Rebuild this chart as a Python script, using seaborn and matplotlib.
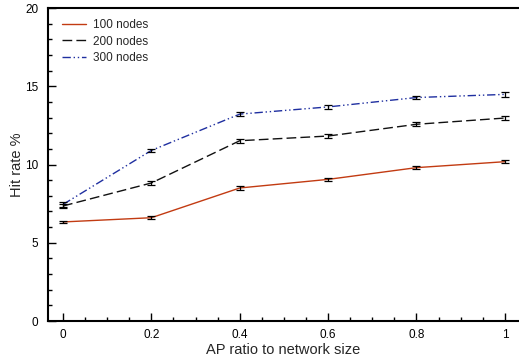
import pandas as pd
import matplotlib
matplotlib.use("Agg")
import matplotlib.pyplot as plt
from matplotlib.ticker import MultipleLocator
import seaborn as sns

# ============= data =============
ap_ratio = [0, 0.2, 0.4, 0.6, 0.8, 1.0]
hit_100 = [6.33, 6.60, 8.50, 9.05, 9.80, 10.18]
hit_200 = [7.35, 8.82, 11.52, 11.82, 12.57, 12.97]
hit_300 = [7.45, 10.90, 13.22, 13.68, 14.28, 14.48]
err_100 = [0.08, 0.08, 0.10, 0.10, 0.10, 0.10]
err_200 = [0.12, 0.12, 0.12, 0.12, 0.12, 0.12]
err_300 = [0.15, 0.12, 0.12, 0.12, 0.12, 0.14]
series_names = ["100 nodes", "200 nodes", "300 nodes"]

sns.set_theme(style="ticks")
plt.rcParams['font.family'] = ['Liberation Sans', 'DejaVu Sans']

rows = []
for name, vals in zip(series_names, [hit_100, hit_200, hit_300]):
    for x, v in zip(ap_ratio, vals):
        rows.append({'ratio': x, 'hit': v, 'series': name})
df = pd.DataFrame(rows)

fig = plt.figure(figsize=(5.19, 3.56), dpi=100)
ax = fig.add_axes([0.0925, 0.0983, 0.9075, 0.8792])

palette = {"100 nodes": "#c23b12", "200 nodes": "#111111", "300 nodes": "#1f2fa0"}
styles = {"100 nodes": "-", "200 nodes": (0, (7, 3)), "300 nodes": (0, (6, 2, 1, 2, 1, 2))}

for name in series_names:
    sub = df[df['series'] == name]
    sns.lineplot(data=sub, x='ratio', y='hit', ax=ax, color=palette[name],
                 linewidth=1.0, label=name, linestyle=styles[name])

# error bars
for vals, errs in zip([hit_100, hit_200, hit_300], [err_100, err_200, err_300]):
    ax.errorbar(ap_ratio, vals, yerr=errs, fmt='none', ecolor='black',
                elinewidth=0.9, capsize=3, capthick=0.9, zorder=3)

ax.set_xlim(-0.034, 1.032)
ax.set_ylim(0, 20)
ax.set_xticks(ap_ratio)
ax.set_xticklabels(['0', '0.2', '0.4', '0.6', '0.8', '1'])
ax.set_yticks([0, 5, 10, 15, 20])
ax.xaxis.set_minor_locator(MultipleLocator(0.05))
ax.yaxis.set_minor_locator(MultipleLocator(1))
ax.tick_params(which='both', direction='in', labelsize=8.5, width=1.0, colors='black')
ax.tick_params(which='major', length=6)
ax.tick_params(which='minor', length=3)
ax.tick_params(axis='x', pad=6)
ax.tick_params(axis='y', pad=7)
for s in ['left', 'bottom', 'top']:
    ax.spines[s].set_linewidth(1.5)
    ax.spines[s].set_color('black')
ax.spines['right'].set_visible(False)

ax.set_xlabel('AP ratio to network size', fontsize=10.5, labelpad=1)
ax.set_ylabel('Hit rate %', fontsize=10.5, labelpad=1)

ax.legend(loc='upper left', frameon=False, fontsize=8.5, handlelength=2.0,
          borderaxespad=0.3, labelspacing=0.35, handletextpad=0.6,
          bbox_to_anchor=(0.012, 0.99))

fig.savefig('out.png', dpi=100)
